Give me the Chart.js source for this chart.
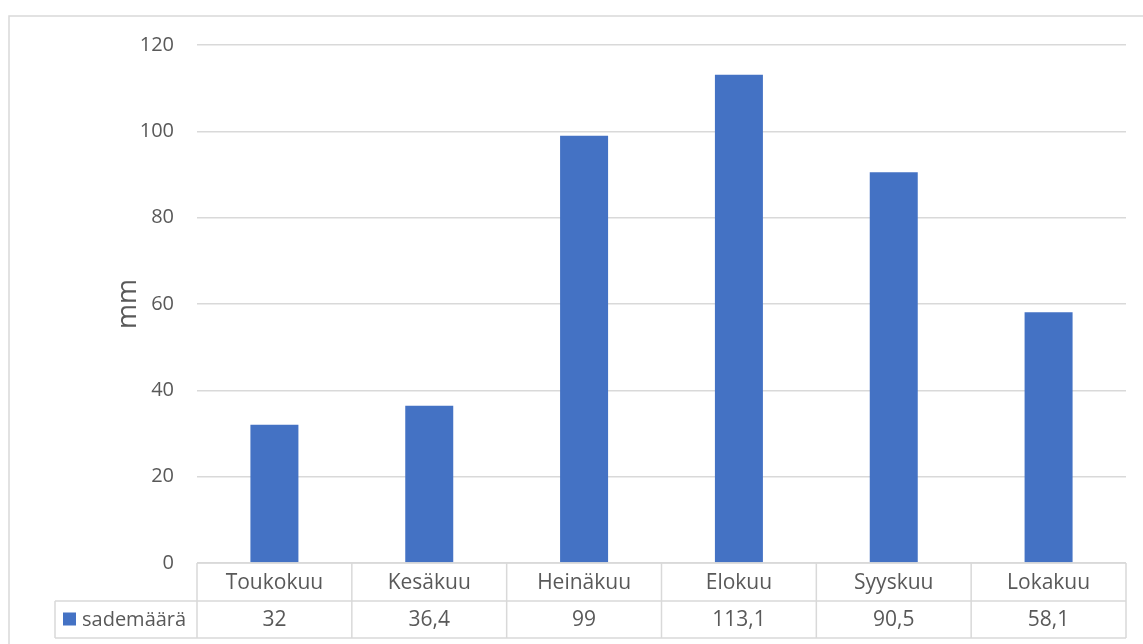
<!DOCTYPE html>
<html>
<head>
<meta charset="utf-8">
<script src="https://cdn.jsdelivr.net/npm/chart.js@4"></script>
<style>
    body { margin: 0; background: #fff; overflow: hidden; }
    #wrap { width: 1143px; height: 644px; position: relative; }
</style>
</head>
<body>
<div id="wrap"><canvas id="sadeChart"></canvas></div>
<script>
const kuukaudet = ['Toukokuu', 'Kesäkuu', 'Heinäkuu', 'Elokuu', 'Syyskuu', 'Lokakuu'];
const sademaara = [32, 36.4, 99, 113.1, 90.5, 58.1];
const sarjanNimi = 'sademäärä';
const yksikko = 'mm';

const FONT = '"Open Sans", "Noto Sans", sans-serif';
const TEXT_COLOR = '#595959';
const LINE_COLOR = '#d9d9d9';
const BAR_COLOR = '#4472C4';

function pilkku(v) {
    return String(v).replace('.', ',');
}

// outer frame of the chart object
const kehys = {
    id: 'kehys',
    beforeDraw(chart) {
        let ctx = chart.ctx;
        ctx.save();
        ctx.strokeStyle = LINE_COLOR;
        ctx.lineWidth = 1.5;
        ctx.strokeRect(9, 16, 1300, 800);
        ctx.restore();
    }
};

// data table under the plot, like in Excel
const taulukko = {
    id: 'taulukko',
    afterDraw(chart) {
        let ctx = chart.ctx;
        let x = chart.scales.x;
        let n = kuukaudet.length;
        let colW = x.width / n;
        let top = chart.chartArea.bottom;
        let mid = top + 38;
        let bottom = mid + 37;
        let legendLeft = 55;

        ctx.save();
        ctx.strokeStyle = LINE_COLOR;
        ctx.lineWidth = 1.5;
        ctx.beginPath();
        ctx.moveTo(x.left, top); ctx.lineTo(x.right, top);
        ctx.moveTo(legendLeft, mid); ctx.lineTo(x.right, mid);
        ctx.moveTo(legendLeft, bottom); ctx.lineTo(x.right, bottom);
        ctx.moveTo(legendLeft, mid); ctx.lineTo(legendLeft, bottom);
        for (let i = 0; i <= n; i++) {
            let cx = x.left + i * colW;
            ctx.moveTo(cx, top); ctx.lineTo(cx, bottom);
        }
        ctx.stroke();

        ctx.fillStyle = TEXT_COLOR;
        ctx.font = '21px ' + FONT;
        ctx.textAlign = 'center';
        ctx.textBaseline = 'middle';
        for (let i = 0; i < n; i++) {
            let cx = x.getPixelForValue(i);
            ctx.fillText(kuukaudet[i], cx, (top + mid) / 2 + 1);
            ctx.fillText(pilkku(sademaara[i]), cx, (mid + bottom) / 2 + 1);
        }

        ctx.fillStyle = BAR_COLOR;
        ctx.fillRect(legendLeft + 8, (mid + bottom) / 2 - 7, 13, 13);
        ctx.fillStyle = TEXT_COLOR;
        ctx.font = '20px ' + FONT;
        ctx.textAlign = 'left';
        ctx.fillText(sarjanNimi, legendLeft + 27, (mid + bottom) / 2 + 1);
        ctx.restore();
    }
};

function sadeChart(id) {
    const data = {
        labels: kuukaudet,
        datasets: [{
                label: sarjanNimi,
                data: sademaara,
                backgroundColor: BAR_COLOR,
                borderWidth: 0,
                categoryPercentage: 1,
                barPercentage: 0.31
            }]
    };
    const config = {
        type: 'bar',
        data: data,
        options: {
            responsive: true,
            maintainAspectRatio: false,
            animation: false,
            layout: {
                padding: { left: 112, top: 45, right: 17, bottom: 81 }
            },
            plugins: {
                legend: { display: false },
                tooltip: { enabled: false }
            },
            scales: {
                x: {
                    display: false
                },
                y: {
                    min: 0,
                    max: 120,
                    ticks: {
                        stepSize: 20,
                        padding: 23,
                        color: TEXT_COLOR,
                        font: { family: FONT, size: 20 }
                    },
                    grid: {
                        color: LINE_COLOR,
                        lineWidth: 1.5,
                        drawTicks: false
                    },
                    border: { display: false },
                    title: {
                        display: true,
                        text: yksikko,
                        color: TEXT_COLOR,
                        padding: 0,
                        font: { family: FONT, size: 27 }
                    },
                    afterFit(scale) {
                        scale.width = 85;
                    }
                }
            }
        },
        plugins: [kehys, taulukko]
    };

    let ctx = document.getElementById(id).getContext("2d");
    new Chart(ctx, config);
}

sadeChart('sadeChart');
</script>
</body>
</html>
